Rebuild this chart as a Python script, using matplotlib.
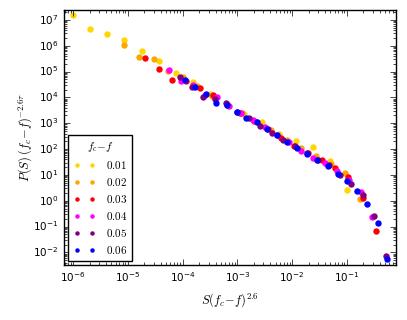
import matplotlib
matplotlib.use('Agg')
import matplotlib.pyplot as plt

plt.style.use('classic')
plt.rcParams['figure.facecolor'] = 'white'
plt.rcParams['savefig.facecolor'] = 'white'
plt.rcParams['mathtext.fontset'] = 'cm'

# f_c - f values (legend)
labels = ['0.01', '0.02', '0.03', '0.04', '0.05', '0.06']
colors = ['#FFD700', '#FFA500', '#FF0000', '#FF00FF', '#800080', '#0000FF']

# S (f_c - f)^2.6  and  P(S) (f_c - f)^(-2.6 tau)
x001 = [9.9e-7, 2.02e-6, 4.19e-6, 8.55e-6, 1.78e-5, 3.68e-5, 7.53e-5, 1.56e-4, 3.18e-4,
        6.43e-4, 1.34e-3, 2.77e-3, 5.8e-3, 1.17e-2, 2.42e-2, 5.0e-2, 0.102]
y001 = [1.6e7, 4.6e6, 2.88e6, 1.64e6, 6.16e5, 2.67e5, 9.2e4, 4.0e4, 1.41e4,
        5.4e3, 2.25e3, 1.07e3, 391, 209, 119, 35.3, 2.55]

x002 = [8.55e-6, 1.59e-5, 2.95e-5, 5.47e-5, 1.02e-4, 1.87e-4, 3.48e-4, 6.43e-4, 1.21e-3,
        2.24e-3, 4.14e-3, 7.92e-3, 1.46e-2, 2.71e-2, 5.04e-2, 9.3e-2, 0.175]
y002 = [1.08e6, 3.61e5, 3.19e5, 1.07e5, 6.4e4, 2.88e4, 1.15e4, 5.4e3, 2.53e3,
        1.14e3, 533, 229, 115, 51.8, 27.0, 12.4, 1.17]

x003 = [2.05e-5, 3.68e-5, 6.44e-5, 1.15e-4, 2.04e-4, 3.61e-4, 6.4e-4, 1.14e-3, 2.03e-3,
        3.61e-3, 6.15e-3, 1.10e-2, 1.96e-2, 3.45e-2, 6.11e-2, 0.107, 0.194, 0.339]
y003 = [3.49e5, 1.27e5, 4.91e4, 4.4e4, 2.35e4, 1.22e4, 5.2e3, 2.53e3, 1.24e3,
        583, 266, 134, 70, 36.2, 17.8, 8.26, 1.23, 0.0693]

x004 = [5.61e-5, 9.41e-5, 1.52e-4, 2.55e-4, 4.28e-4, 7.0e-4, 1.16e-3, 1.94e-3, 3.18e-3,
        5.26e-3, 8.65e-3, 1.43e-2, 2.36e-2, 3.96e-2, 6.49e-2, 0.109, 0.180, 0.290]
y004 = [1.13e5, 4.5e4, 3.15e4, 1.26e4, 1.03e4, 4.85e3, 2.42e3, 1.28e3, 697,
        357, 187, 80.7, 44.9, 28.8, 14.1, 6.5, 2.13, 0.241]

x005 = [9.02e-5, 1.46e-4, 2.37e-4, 3.84e-4, 6.17e-4, 1.0e-3, 1.62e-3, 2.60e-3, 4.21e-3,
        6.87e-3, 1.11e-2, 1.88e-2, 3.02e-2, 4.79e-2, 7.45e-2, 0.120, 0.194, 0.315, 0.509]
y005 = [6.08e4, 2.45e4, 1.05e4, 8.6e3, 6.0e3, 2.77e3, 1.58e3, 818, 438,
        219, 134, 71.9, 38.6, 24.7, 10.1, 4.55, 1.61, 0.264, 7.03e-3]

x006 = [1.13e-4, 1.72e-4, 2.63e-4, 4.05e-4, 6.35e-4, 9.67e-4, 1.46e-3, 2.24e-3, 3.41e-3,
        5.2e-3, 8.02e-3, 1.21e-2, 1.84e-2, 2.87e-2, 4.44e-2, 6.76e-2, 0.101, 0.156, 0.235,
        0.364, 0.545]
y006 = [4.91e4, 2.56e4, 1.32e4, 6.0e3, 5.16e3, 2.84e3, 1.58e3, 1.11e3, 626,
        357, 183, 115, 62.9, 38.6, 22.6, 11.1, 5.94, 2.29, 0.767,
        0.133, 5.57e-3]

xs = [x001, x002, x003, x004, x005, x006]
ys = [y001, y002, y003, y004, y005, y006]

fig = plt.figure(figsize=(4.07, 3.2), dpi=100)
ax = fig.add_axes([0.157, 0.172, 0.816, 0.797])

for x, y, c, lab in zip(xs, ys, colors, labels):
    ax.plot(x, y, 'o', color=c, markeredgewidth=0, markersize=4.6, label='$' + lab + '$')

ax.set_xscale('log')
ax.set_yscale('log')
ax.set_xlim(6.8e-7, 0.79)
ax.set_ylim(3.27e-3, 2.44e7)
ax.tick_params(labelsize=7.5)

ax.set_xlabel(r'$S(f_c\!-\!f)^{2.6}$', fontsize=9)
ax.set_ylabel(r'$P(S)\,(f_c\!-\!f)^{-2.6\tau}$', fontsize=9, labelpad=-1)

leg = ax.legend(loc='lower left', numpoints=2, fontsize=8, markerscale=0.7,
                title=r'$f_c\!-\!f$', handlelength=2.0, handletextpad=0.9,
                borderaxespad=0.4, labelspacing=0.45, borderpad=0.45)
leg.get_title().set_fontsize(8)

fig.savefig('out.png', dpi=100)
